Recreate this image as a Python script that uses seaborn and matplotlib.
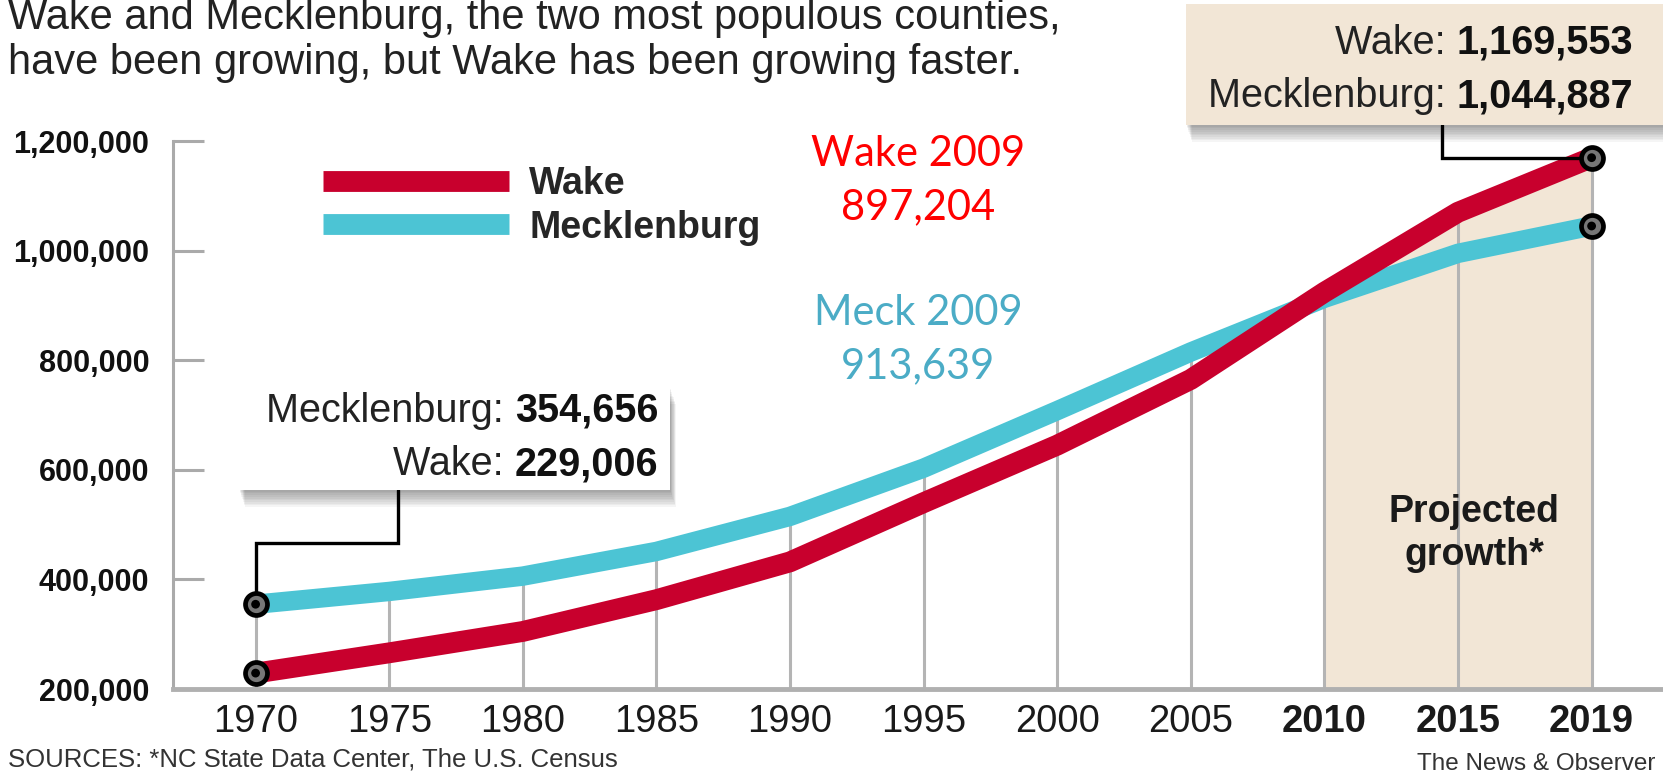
import numpy as np
import pandas as pd
import matplotlib
matplotlib.use('Agg')
import matplotlib.pyplot as plt
import seaborn as sns
from matplotlib.patches import Rectangle
from matplotlib.lines import Line2D

# ---------------- data ----------------
years = ['1970', '1975', '1980', '1985', '1990', '1995', '2000', '2005', '2010', '2015', '2019']
bold_years = ['2010', '2015', '2019']
wake = [229006, 266000, 305000, 363000, 432000, 540000, 645000, 765000, 924000, 1070000, 1169553]
meck = [354656, 378000, 406000, 451000, 515000, 603000, 708000, 815000, 913000, 995000, 1044887]
counties = ['Wake', 'Mecklenburg']
yticks = [200000, 400000, 600000, 800000, 1000000, 1200000]
projected_start = '2010'

title_lines = ['Wake and Mecklenburg, the two most populous counties,',
               'have been growing, but Wake has been growing faster.']
start_label = [('Mecklenburg: ', '354,656'), ('Wake: ', '229,006')]
end_label = [('Wake: ', '1,169,553'), ('Mecklenburg: ', '1,044,887')]
wake_note = ['Wake 2009', '897,204']
meck_note = ['Meck 2009', '913,639']
source_text = 'SOURCES: *NC State Data Center, The U.S. Census'
credit_text = 'The News & Observer'

# ---------------- style ----------------
W, H = 1663, 773
sns.set_theme(style='white')
plt.rcParams['font.family'] = ['Liberation Sans', 'DejaVu Sans']

RED = '#C8002D'
CYAN = '#4CC4D4'
BEIGE = '#F2E6D6'
GRID = '#B4B4B4'
palette = {'Wake': RED, 'Mecklenburg': CYAN}

fig = plt.figure(figsize=(W / 100, H / 100), dpi=100)
fig.patch.set_facecolor('white')


def fx(px):
    return px / W


def fy(py):
    return 1 - py / H


ax = fig.add_axes([fx(173), fy(689), fx(W - 173), (689 - 141) / H])
ax.set_facecolor('none')

X0, XS = 255.6, 133.6  # pixel of first category, pixel step


def dx(px):
    return (px - X0) / XS


def dy(py):
    return 200000 + (689 - py) / 548 * 1e6


idx = np.arange(len(years))
df = pd.DataFrame({
    'idx': np.concatenate([idx, idx]),
    'Population': wake + meck,
    'County': ['Wake'] * len(years) + ['Mecklenburg'] * len(years),
})

top = np.maximum(wake, meck)
p0 = years.index(projected_start)
ax.fill_between(idx[p0:], yticks[0], top[p0:], color=BEIGE, zorder=0, lw=0)
ax.vlines(idx, yticks[0], top, color=GRID, lw=2.2, zorder=1)

sns.lineplot(data=df, x='idx', y='Population', hue='County',
             hue_order=['Mecklenburg', 'Wake'], palette=palette, ax=ax,
             linewidth=15, sort=False, legend=False, zorder=3)
for ln, lw in zip(ax.lines, [14, 15]):
    ln.set_linewidth(lw)
    ln.set_solid_capstyle('butt')
    ln.set_solid_joinstyle('round')
    ln.set_clip_on(False)

# endpoint markers
ex = [idx[0], idx[-1], idx[0], idx[-1]]
ey = [wake[0], wake[-1], meck[0], meck[-1]]
ax.scatter(ex, ey, s=250, facecolor='#777777', edgecolor='black', linewidths=3.4,
           zorder=6, clip_on=False)
ax.scatter(ex, ey, s=40, facecolor='black', edgecolor='none', zorder=7, clip_on=False)

# connectors
ax.plot([dx(398), dx(398), 0, 0], [dy(490), dy(543), dy(543), meck[0]],
        color='black', lw=2.4, zorder=5, clip_on=False, solid_joinstyle='miter')
ax.plot([dx(1442), dx(1442), idx[-1]], [dy(125), wake[-1], wake[-1]],
        color='black', lw=2.4, zorder=5, clip_on=False, solid_joinstyle='miter')

# axes
ax.set_xlim(dx(173), dx(W))
ax.set_ylim(yticks[0], yticks[-1])
ax.set_yticks(yticks)
ax.set_yticklabels([f'{v:,}' for v in yticks], fontweight='bold', fontsize=22, color='#111111')
ax.tick_params(axis='y', direction='in', length=22, width=2.2, color='#AAAAAA', pad=17, left=True)
ax.set_xticks(idx)
ax.set_xticklabels(years, fontsize=27.5, color='#1a1a1a')
for t in ax.get_xticklabels():
    if t.get_text() in bold_years:
        t.set_fontweight('bold')
ax.tick_params(axis='x', length=0, pad=11)
ax.set_xlabel('')
ax.set_ylabel('')
for s in ['top', 'right']:
    ax.spines[s].set_visible(False)
ax.spines['left'].set_color('#AAAAAA')
ax.spines['left'].set_linewidth(2.2)
ax.spines['bottom'].set_color('#B0B0B0')
ax.spines['bottom'].set_linewidth(3.5)
ax.grid(False)

# legend
handles = [Line2D([0], [0], color=palette[c], lw=15, solid_capstyle='butt') for c in counties]
ax.legend(handles=handles, labels=counties, loc='upper left',
          bbox_to_anchor=(fx(323), fy(166)), bbox_transform=fig.transFigure,
          frameon=False, borderpad=0, borderaxespad=0, handlelength=4.95,
          handletextpad=0.55, labelspacing=0.2, prop={'weight': 'bold', 'size': 27})


# boxes with shadows
def box(x0, y0, x1, y1, color):
    for i in range(1, 11):
        fig.add_artist(Rectangle((fx(x0 + i * 0.6), fy(y1 + i * 1.7)), fx(x1 - x0), (y1 - y0) / H,
                                 transform=fig.transFigure, facecolor='black', alpha=0.04,
                                 edgecolor='none', zorder=8))
    fig.add_artist(Rectangle((fx(x0), fy(y1)), fx(x1 - x0), (y1 - y0) / H,
                             transform=fig.transFigure, facecolor=color, edgecolor='none', zorder=9))


box(239, 387, 670, 490, 'white')
box(1186, 4, 1680, 125, BEIGE)

renderer = fig.canvas.get_renderer()
inv = fig.transFigure.inverted()


def pair(xr, base, label, number, size=28.5):
    t = fig.text(fx(xr), fy(base), number, ha='right', va='baseline', fontsize=size,
                 fontweight='bold', color='#111111', zorder=10)
    bb = t.get_window_extent(renderer)
    xl = inv.transform((bb.x0, 0))[0]
    fig.text(xl, fy(base), label, ha='right', va='baseline', fontsize=size,
             color='#222222', zorder=10)


for (lab, num), base in zip(start_label, [422, 475]):
    pair(658, base, lab, num)
for (lab, num), base in zip(end_label, [54, 107]):
    pair(1633, base, lab, num)

# title
for line, base in zip(title_lines, [29, 74]):
    fig.text(fx(8), fy(base), line, ha='left', va='baseline', fontsize=30, color='#222222')

# projected label
for line, yc in zip(['Projected', 'growth*'], [512, 555]):
    fig.text(fx(1474), fy(yc), line, ha='center', va='center', fontsize=27,
             fontweight='bold', color='#1a1a1a', zorder=4)

# colored notes
for line, yc in zip(wake_note, [154, 207]):
    fig.text(fx(918), fy(yc), line, ha='center', va='center', fontsize=30,
             color='#FF0000', family=['Lato', 'DejaVu Sans'])
for line, yc in zip(meck_note, [313, 366]):
    fig.text(fx(918), fy(yc), line, ha='center', va='center', fontsize=30,
             color='#4BACC6', family=['Lato', 'DejaVu Sans'])

fig.text(fx(8), fy(760), source_text, ha='left', va='center', fontsize=18.5, color='#333333')
fig.text(fx(1655), fy(764), credit_text, ha='right', va='center', fontsize=17.5, color='#333333')

fig.savefig('out.png', dpi=100, facecolor='white')
